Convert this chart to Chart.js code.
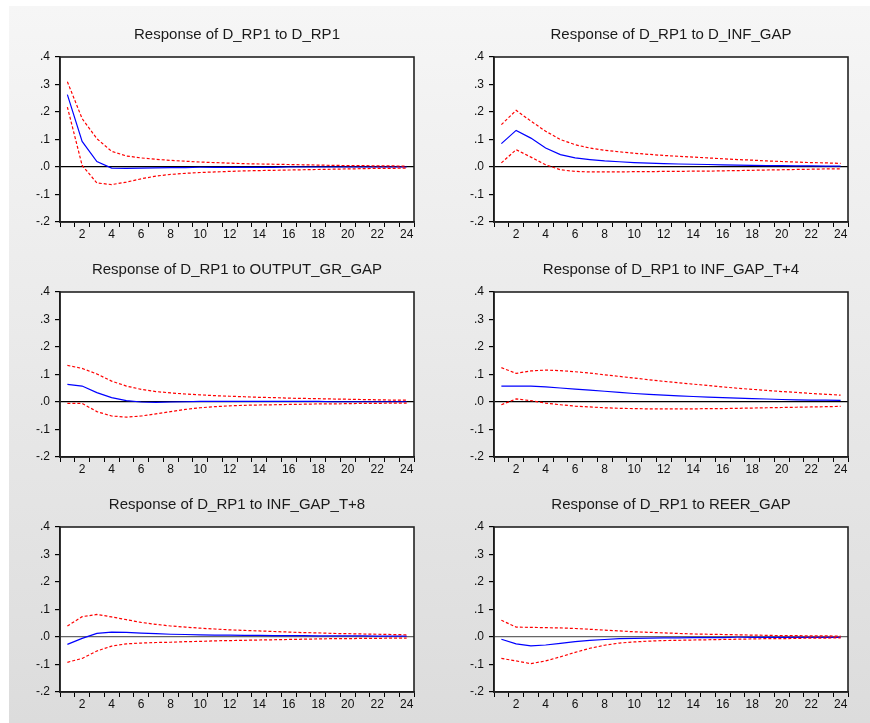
<!DOCTYPE html>
<html><head><meta charset="utf-8">
<script src="https://cdn.jsdelivr.net/npm/chart.js@4.4.0/dist/chart.umd.min.js"></script>
<style>
html,body{margin:0;padding:0;width:870px;height:723px;overflow:hidden;background:#fff;}
#bg{position:absolute;left:9px;top:6px;width:861px;height:717px;background:linear-gradient(#f6f6f6,#dcdcdc);}
.cell{position:absolute;width:426px;height:235px;}
</style></head><body>
<div id="bg"></div>
<div class="cell" style="left:8px;top:6px"><canvas id="c1" width="426" height="235"></canvas></div>
<div class="cell" style="left:442px;top:6px"><canvas id="c2" width="426" height="235"></canvas></div>
<div class="cell" style="left:8px;top:241px"><canvas id="c3" width="426" height="235"></canvas></div>
<div class="cell" style="left:442px;top:241px"><canvas id="c4" width="426" height="235"></canvas></div>
<div class="cell" style="left:8px;top:476px"><canvas id="c5" width="426" height="235"></canvas></div>
<div class="cell" style="left:442px;top:476px"><canvas id="c6" width="426" height="235"></canvas></div>
<script>
const periods = ['1','2','3','4','5','6','7','8','9','10','11','12','13','14','15','16','17','18','19','20','21','22','23','24'];
const yTicks = [-0.2,-0.1,0,0.1,0.2,0.3,0.4];
const titles = [
  'Response of D_RP1 to D_RP1',
  'Response of D_RP1 to D_INF_GAP',
  'Response of D_RP1 to OUTPUT_GR_GAP',
  'Response of D_RP1 to INF_GAP_T+4',
  'Response of D_RP1 to INF_GAP_T+8',
  'Response of D_RP1 to REER_GAP'
];

const resp1 = [0.263,0.093,0.020,-0.004,-0.005,-0.004,-0.003,-0.002,-0.002,-0.001,-0.001,-0.001,-0.001,-0.001,-0.001,0,0,0,0,0,0,0,0,0];
const up1 = [0.310,0.176,0.103,0.057,0.040,0.033,0.028,0.024,0.021,0.018,0.016,0.014,0.012,0.011,0.010,0.009,0.008,0.007,0.006,0.005,0.005,0.004,0.004,0.003];
const lo1 = [0.218,0.006,-0.058,-0.064,-0.055,-0.043,-0.033,-0.027,-0.023,-0.020,-0.018,-0.016,-0.014,-0.013,-0.012,-0.011,-0.010,-0.009,-0.008,-0.007,-0.006,-0.005,-0.005,-0.004];

const resp2 = [0.085,0.133,0.105,0.069,0.045,0.033,0.027,0.022,0.019,0.016,0.014,0.012,0.011,0.010,0.009,0.008,0.007,0.006,0.005,0.005,0.004,0.004,0.003,0.003];
const up2 = [0.154,0.206,0.167,0.130,0.100,0.081,0.069,0.061,0.055,0.050,0.046,0.042,0.039,0.036,0.033,0.030,0.027,0.025,0.022,0.020,0.018,0.016,0.015,0.013];
const lo2 = [0.015,0.063,0.036,0.008,-0.010,-0.016,-0.018,-0.018,-0.018,-0.017,-0.017,-0.016,-0.016,-0.015,-0.015,-0.014,-0.013,-0.012,-0.011,-0.010,-0.009,-0.008,-0.007,-0.007];

const resp3 = [0.064,0.058,0.034,0.016,0.005,0.000,-0.001,0.000,0.001,0.002,0.002,0.002,0.002,0.002,0.002,0.002,0.002,0.002,0.001,0.001,0.001,0.001,0.001,0.001];
const up3 = [0.133,0.122,0.102,0.076,0.058,0.046,0.038,0.033,0.029,0.026,0.023,0.021,0.019,0.017,0.016,0.014,0.013,0.012,0.011,0.010,0.009,0.008,0.007,0.007];
const lo3 = [-0.005,-0.005,-0.035,-0.051,-0.055,-0.051,-0.043,-0.035,-0.027,-0.021,-0.017,-0.014,-0.012,-0.011,-0.010,-0.009,-0.008,-0.007,-0.007,-0.006,-0.005,-0.005,-0.004,-0.004];

const resp4 = [0.058,0.058,0.058,0.055,0.051,0.047,0.043,0.039,0.035,0.031,0.028,0.025,0.022,0.020,0.018,0.016,0.014,0.012,0.011,0.009,0.008,0.007,0.007,0.006];
const up4 = [0.125,0.104,0.113,0.116,0.114,0.110,0.105,0.099,0.093,0.087,0.081,0.075,0.070,0.065,0.060,0.055,0.050,0.046,0.042,0.038,0.035,0.031,0.028,0.025];
const lo4 = [-0.010,0.011,0.005,-0.004,-0.010,-0.015,-0.018,-0.021,-0.023,-0.024,-0.025,-0.025,-0.025,-0.025,-0.024,-0.024,-0.023,-0.022,-0.021,-0.020,-0.019,-0.018,-0.017,-0.016];

const resp5 = [-0.027,-0.005,0.013,0.018,0.017,0.014,0.012,0.010,0.009,0.008,0.007,0.007,0.006,0.006,0.005,0.005,0.005,0.004,0.004,0.004,0.004,0.003,0.003,0.003];
const up5 = [0.040,0.074,0.082,0.073,0.063,0.053,0.046,0.040,0.036,0.032,0.029,0.026,0.024,0.022,0.020,0.018,0.016,0.015,0.013,0.012,0.011,0.010,0.009,0.008];
const lo5 = [-0.092,-0.078,-0.051,-0.033,-0.025,-0.022,-0.020,-0.019,-0.017,-0.016,-0.014,-0.013,-0.012,-0.011,-0.010,-0.009,-0.008,-0.007,-0.006,-0.006,-0.005,-0.005,-0.004,-0.004];

const resp6 = [-0.008,-0.025,-0.032,-0.029,-0.023,-0.017,-0.012,-0.009,-0.006,-0.005,-0.004,-0.003,-0.003,-0.002,-0.002,-0.002,-0.001,-0.001,-0.001,-0.001,-0.001,-0.001,-0.001,-0.001];
const up6 = [0.061,0.036,0.035,0.034,0.033,0.031,0.028,0.025,0.022,0.019,0.017,0.015,0.013,0.011,0.010,0.009,0.008,0.007,0.006,0.005,0.005,0.004,0.004,0.003];
const lo6 = [-0.078,-0.087,-0.097,-0.087,-0.072,-0.056,-0.041,-0.030,-0.022,-0.018,-0.015,-0.013,-0.012,-0.011,-0.010,-0.009,-0.008,-0.007,-0.006,-0.006,-0.005,-0.004,-0.004,-0.003];

const FONT = "'Liberation Sans', Arial, sans-serif";

const boxPlugin = {
  id: 'box',
  beforeDraw(chart) {
    const a = chart.chartArea, ctx = chart.ctx;
    ctx.save(); ctx.fillStyle = '#ffffff';
    ctx.fillRect(a.left, a.top, a.right - a.left, a.bottom - a.top);
    ctx.restore();
  },
  afterDraw(chart) {
    const a = chart.chartArea, ctx = chart.ctx;
    ctx.save(); ctx.strokeStyle = '#222'; ctx.lineWidth = 1.6;
    ctx.strokeRect(a.left, a.top, a.right - a.left, a.bottom - a.top);
    ctx.restore();
  }
};

function fmt(v) {
  let s = Number(v).toFixed(1);
  if (s === '-0.0') s = '0.0';
  return s.replace(/^(-?)0\./, '$1.');
}

function make(id, title, resp, up, lo, zeroColor) {
  const line = (data, color, dash) => ({
    data: data, borderColor: color, borderWidth: 1.2, borderDash: dash,
    pointRadius: 0, tension: 0, fill: false
  });
  new Chart(document.getElementById(id), {
    type: 'line',
    data: {
      labels: periods,
      datasets: [
        line(up, '#ff0000', [3, 2]),
        line(lo, '#ff0000', [3, 2]),
        line(resp, '#0000ff', [])
      ]
    },
    options: {
      responsive: false, animation: false,
      layout: { padding: { left: 0, right: 20, top: 0, bottom: 0 } },
      plugins: {
        legend: { display: false }, tooltip: { enabled: false },
        title: {
          display: true, text: title, color: '#1a1a1a', fullSize: false,
          font: { family: FONT, size: 15, weight: 'normal' },
          padding: { top: 20, bottom: 13 }
        }
      },
      scales: {
        x: {
          type: 'category', offset: true,
          grid: { display: true, offset: true, drawOnChartArea: false, drawTicks: true, tickLength: 5, color: '#000', lineWidth: 1 },
          border: { display: true, color: '#000', width: 1.5 },
          ticks: {
            autoSkip: false, maxRotation: 0, minRotation: 0, padding: 0,
            color: '#111', font: { family: FONT, size: 12 },
            callback: (v, i) => ((i + 1) % 2 === 0 ? periods[i] : '')
          },
          afterFit: s => { s.height = 19; }
        },
        y: {
          min: -0.2, max: 0.4,
          afterBuildTicks: s => { s.ticks = yTicks.map(v => ({ value: v })); },
          grid: {
            display: true, drawOnChartArea: true, drawTicks: true, tickLength: 5,
            color: c => (c.tick && Math.abs(c.tick.value) < 1e-9 ? zeroColor : 'rgba(0,0,0,0)'),
            tickColor: '#000', lineWidth: 1.2
          },
          border: { display: true, color: '#000', width: 1.5 },
          ticks: {
            padding: 5, color: '#111', font: { family: FONT, size: 12 },
            callback: v => fmt(v)
          },
          afterFit: s => { s.width = 52; }
        }
      }
    },
    plugins: [boxPlugin]
  });
}

make('c1', titles[0], resp1, up1, lo1, '#000');
make('c2', titles[1], resp2, up2, lo2, '#000');
make('c3', titles[2], resp3, up3, lo3, '#000');
make('c4', titles[3], resp4, up4, lo4, '#000');
make('c5', titles[4], resp5, up5, lo5, '#666');
make('c6', titles[5], resp6, up6, lo6, '#666');
</script>
</body></html>
